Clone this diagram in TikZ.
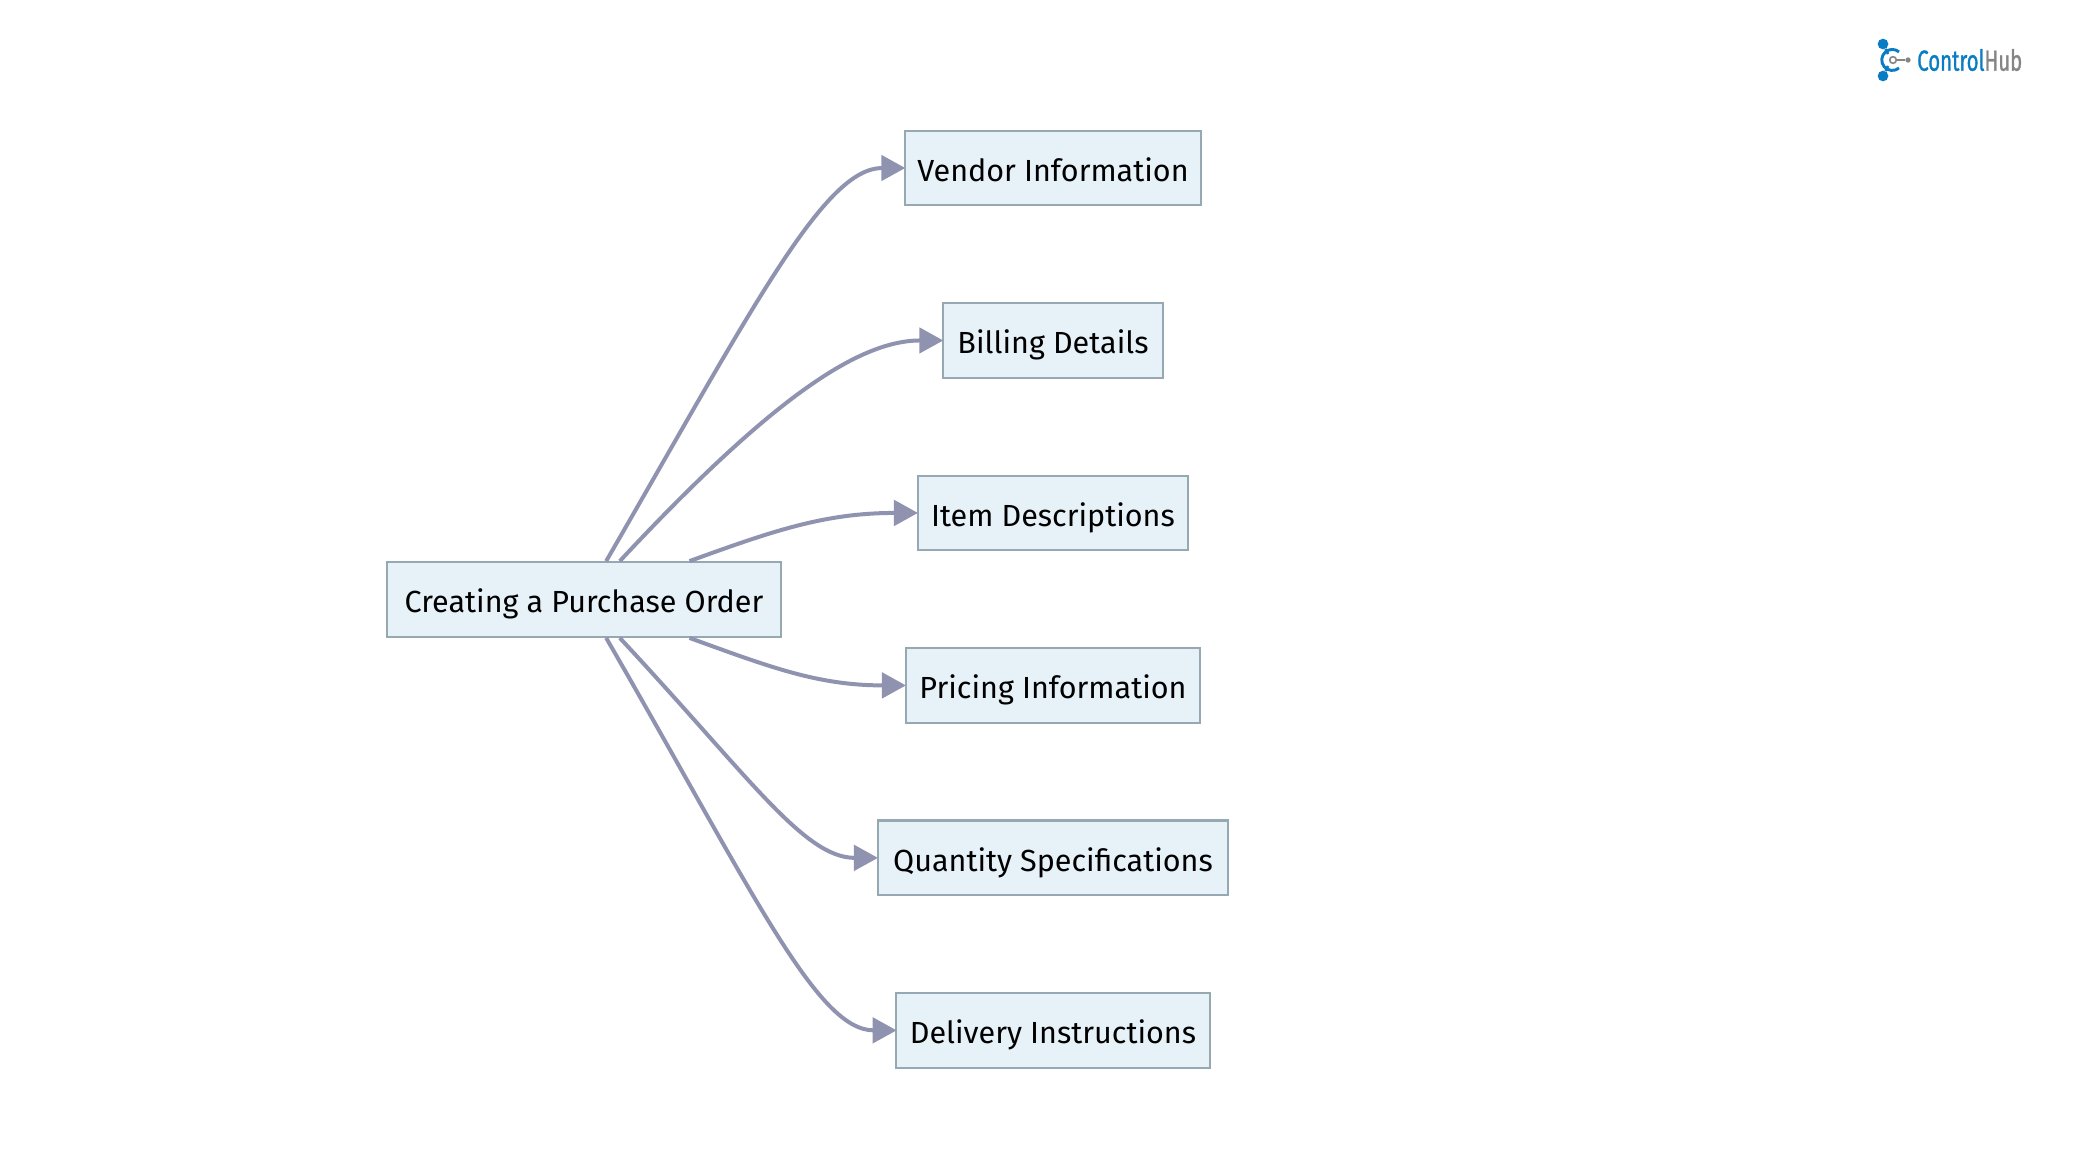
\documentclass[tikz,border=0pt]{standalone}
\usepackage{fontspec}
\setmainfont{Fira Sans}
\newfontfamily\logofont[FakeStretch=0.7,FakeBold=1]{Fira Sans}
\usetikzlibrary{arrows.meta, positioning}
\definecolor{boxfill}{HTML}{E6F1F8}
\definecolor{boxline}{HTML}{96A9B3}
\definecolor{edgeline}{HTML}{8F93B0}
\definecolor{logoblue}{HTML}{0A7CC4}
\definecolor{logogray}{HTML}{858585}

\begin{document}
\begin{tikzpicture}[
        x=0.75pt, y=-0.75pt,
        node distance=129.35pt, >={Triangle[length=18pt,width=19pt]},
        block/.style={rectangle, draw=boxline, fill=boxfill, line width=1.6pt, text=black, font=\fontsize{22.9}{26}\selectfont, text height=22pt, text depth=2.2pt, minimum height=56pt, inner sep=0pt, align=center},
        line/.style={draw=edgeline, line width=3pt, shorten >=-1pt, ->},
        dot/.style={circle, fill=logoblue, inner sep=0pt, minimum size=8pt},
    ]
    \useasboundingbox (0,0) rectangle (2074,1161);

    % Nodes
    \node [block, minimum width=295.5pt] (order) at (584,599.5) {Creating a Purchase Order};
    \node [block, minimum width=222pt] (vendor) at (1053,168) {Vendor Information};
    \node [block, minimum width=165pt, below of=vendor] (billing) {Billing Details};
    \node [block, minimum width=203pt, below of=billing] (item) {Item Descriptions};
    \node [block, minimum width=221pt, below of=item] (pricing) {Pricing Information};
    \node [block, minimum width=263pt, below of=pricing] (quantity) {Quantity Specifications};
    \node [block, minimum width=235pt, below of=quantity] (delivery) {Delivery Instructions};

    % Arrows
    \path [line] (order.60) to[out=60, in=180, out looseness=1.55, in looseness=.41] (vendor.west);
    \path [line] (order.47) to[out=47, in=180, out looseness=1.45, in looseness=.55] (billing.west);
    \path [line] (order.20) to[out=20, in=180, looseness=1] (item.west);
    \path [line] (order.-20) to[out=-20, in=180, looseness=1] (pricing.west);
    \path [line] (order.-47) to[out=-47, in=180, out looseness=1.45, in looseness=.55] (quantity.west);
    \path [line] (order.-60) to[out=-60, in=180, out looseness=1.55, in looseness=.41] (delivery.west);

    % Logo
    \node [dot] (top) at (1883,44) {};
    \node [dot] (bottom) at (1883,76) {};
    \node [circle, draw=logogray, line width=1.2pt, inner sep=0pt, minimum size=5pt] (hub) at (1893,60) {};
    \node [circle, fill=logogray, inner sep=0pt, minimum size=4pt] (tip) at (1908,60) {};
    \draw [logogray, line width=1.8pt] (hub) -- (tip);
    \draw [logoblue, line width=2pt] (top) -- (1888,54) (bottom) -- (1888,66);
    \draw [logoblue, line width=2.2pt] (1899,68) arc (50:310:10.5);
    \node [anchor=west, inner sep=0pt, font=\logofont\fontsize{21.8}{24}\selectfont] (logo) at (1917,60) {\textcolor{logoblue}{Control}\textcolor{logogray}{Hub}};
\end{tikzpicture}
\end{document}
